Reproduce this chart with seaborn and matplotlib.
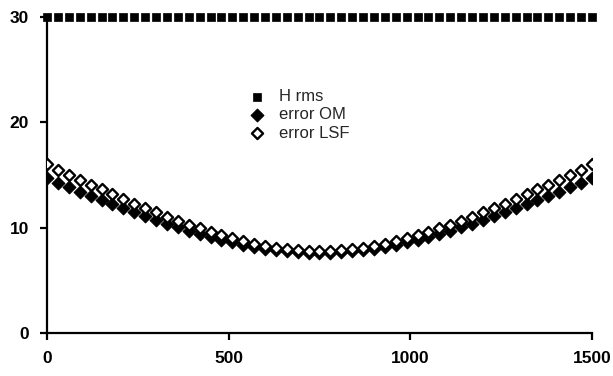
import matplotlib
matplotlib.use("Agg")
import matplotlib.pyplot as plt
import seaborn as sns
import pandas as pd

x_vals = [0, 30, 60, 90, 120, 150, 180, 210, 240, 270, 300, 330, 360, 390, 420, 450,
          480, 510, 540, 570, 600, 630, 660, 690, 720, 750, 780, 810, 840, 870, 900,
          930, 960, 990, 1020, 1050, 1080, 1110, 1140, 1170, 1200, 1230, 1260, 1290,
          1320, 1350, 1380, 1410, 1440, 1470, 1500]

h_rms = [30.0] * 51

err_om_half = [14.70, 14.27, 13.85, 13.43, 13.02, 12.61, 12.22, 11.83, 11.44, 11.07,
               10.71, 10.36, 10.03, 9.71, 9.40, 9.12, 8.85, 8.60, 8.38, 8.18, 8.01,
               7.86, 7.75, 7.67, 7.62, 7.60]
err_lsf_half = [16.00, 15.52, 15.03, 14.56, 14.09, 13.63, 13.18, 12.73, 12.29, 11.87,
                11.45, 11.05, 10.66, 10.29, 9.93, 9.60, 9.28, 8.99, 8.73, 8.49, 8.29,
                8.11, 7.98, 7.88, 7.82, 7.80]
err_om = err_om_half + err_om_half[-2::-1]
err_lsf = err_lsf_half + err_lsf_half[-2::-1]

x_ticks = [0, 500, 1000, 1500]
y_ticks = [0, 10, 20, 30]

sns.set_theme(style="ticks")
plt.rcParams['font.family'] = ['Liberation Sans', 'DejaVu Sans']

df = pd.DataFrame({"x": x_vals, "H rms": h_rms, "error OM": err_om, "error LSF": err_lsf})

fig = plt.figure(figsize=(6.13, 3.76), dpi=100)
ax = fig.add_axes([0.0767, 0.1144, 0.8890, 0.8404])

sns.scatterplot(data=df, x="x", y="H rms", marker="s", s=26, color="black",
                edgecolor="black", linewidth=0.5, label="H rms", ax=ax, clip_on=False, zorder=3)
sns.scatterplot(data=df, x="x", y="error OM", marker="D", s=42, color="black",
                edgecolor="black", linewidth=0.8, label="error OM", ax=ax, zorder=3)
sns.scatterplot(data=df, x="x", y="error LSF", marker="D", s=32, color="white",
                edgecolor="black", linewidth=1.7, label="error LSF", ax=ax, zorder=4)

ax.set_xlim(0, 1500)
ax.set_ylim(0, 30)
ax.set_xticks(x_ticks)
ax.set_yticks(y_ticks)
ax.set_xlabel("")
ax.set_ylabel("")
for s in ["top", "right"]:
    ax.spines[s].set_visible(False)
for s in ["left", "bottom"]:
    ax.spines[s].set_linewidth(1.6)
    ax.spines[s].set_color("black")
ax.tick_params(axis="both", direction="out", length=5, width=1.6, colors="black",
               labelsize=12.5, pad=8)
for lab in ax.get_xticklabels() + ax.get_yticklabels():
    lab.set_fontweight("bold")

leg = ax.legend(loc="center", bbox_to_anchor=(0.463, 0.69), frameon=False,
                fontsize=12, handletextpad=0.8, handlelength=1.0, labelspacing=0.2,
                markerscale=1.0)

fig.savefig("out.png", dpi=100)
